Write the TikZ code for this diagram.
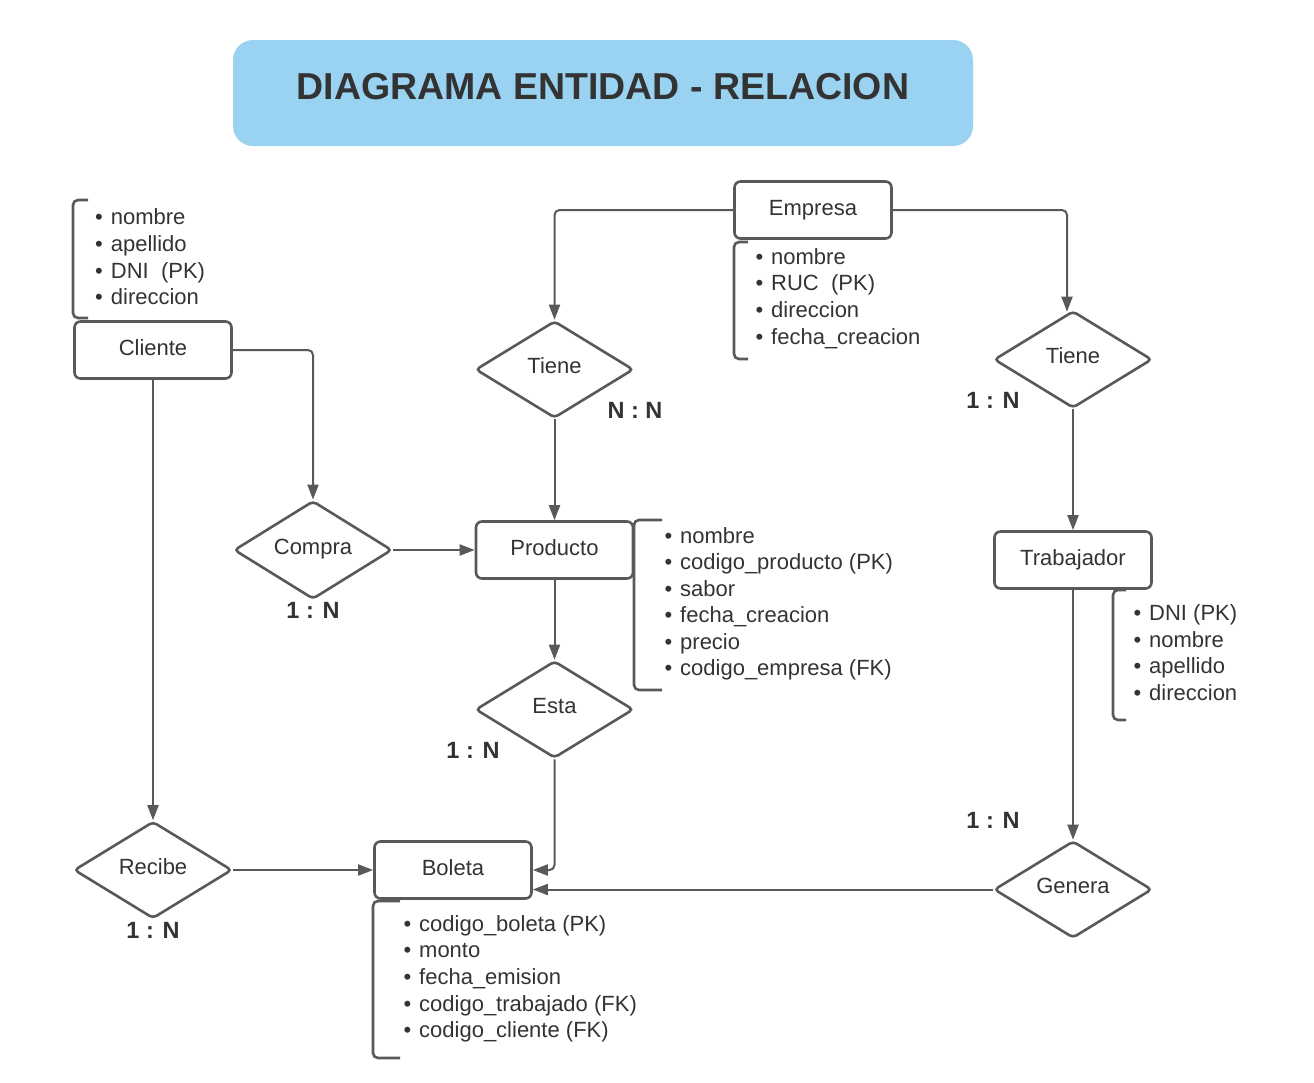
\documentclass[tikz,border=0pt]{standalone}
\usepackage{fontspec}
\setmainfont{Liberation Sans}
\usetikzlibrary{shapes.geometric,arrows.meta,calc}
\definecolor{linegray}{RGB}{89,89,89}
\definecolor{textgray}{RGB}{51,51,51}
\definecolor{titleblue}{RGB}{154,210,241}
\begin{document}
\begin{tikzpicture}[x=1pt,y=-1pt,
  entity/.style={draw=linegray, line width=2.6pt, rounded corners=6pt, minimum width=157pt, minimum height=57pt, inner sep=0pt, fill=white, text=textgray, font=\fontsize{22}{26}\selectfont, text height=16pt, text depth=5pt},
  rel/.style={diamond, draw=linegray, line width=2.6pt, rounded corners=4pt, minimum width=158pt, minimum height=97pt, inner sep=0pt, fill=white, text=textgray, font=\fontsize{22}{26}\selectfont, text height=14pt, text depth=6pt},
  card/.style={text=textgray, font=\bfseries\fontsize{23.5}{28}\selectfont, anchor=base, inner sep=0pt},
  attr/.style={text=textgray, font=\fontsize{22}{26}\selectfont, anchor=base west, inner sep=0pt},
  bracket/.style={draw=linegray, line width=2.6pt, rounded corners=5pt},
  conn/.style={draw=linegray, line width=2pt, -{Triangle[length=15pt,width=11pt]}, rounded corners=5pt},
]
\useasboundingbox (0,0) rectangle (1314,1082);

% title
\node[fill=titleblue, rounded corners=20pt, minimum width=740pt, minimum height=106pt, inner sep=0pt, text=textgray, font=\bfseries\fontsize{37.5}{40}\selectfont, text height=27pt, text depth=14pt] (title) at (603,93) {DIAGRAMA ENTIDAD - RELACION};

% entities
\node[entity] (cliente) at (153,350) {Cliente};
\node[entity] (empresa) at (813,210) {Empresa};
\node[entity] (producto) at (554.5,550) {Producto};
\node[entity] (trabajador) at (1073,560) {Trabajador};
\node[entity] (boleta) at (453,870) {Boleta};

% relations
\node[rel] (tiene1) at (554.5,369.5) {Tiene};
\node[rel] (tiene2) at (1073,359.5) {Tiene};
\node[rel] (compra) at (313,550) {Compra};
\node[rel] (esta) at (554.5,709.5) {Esta};
\node[rel] (recibe) at (153,870) {Recibe};
\node[rel] (genera) at (1073,889.5) {Genera};

% cardinalities
\node[card] (card1) at (635,418) {N : N};
\node[card] (card2) at (993,408) {1 : N};
\node[card] (card3) at (313,618) {1 : N};
\node[card] (card4) at (473,758) {1 : N};
\node[card] (card5) at (993,828) {1 : N};
\node[card] (card6) at (153,938) {1 : N};

% attribute brackets
\draw[bracket] (88,200) -- (73,200) -- (73,318) -- (88,318);
\draw[bracket] (748,242) -- (734,242) -- (734,359) -- (748,359);
\draw[bracket] (662,520) -- (634,520) -- (634,690) -- (662,690);
\draw[bracket] (1126,590) -- (1113,590) -- (1113,720) -- (1126,720);
\draw[bracket] (400,901) -- (373,901) -- (373,1058) -- (400,1058);

% attribute lists
\foreach \t [count=\i from 0] in {nombre, apellido, DNI\ \ (PK), direccion}
  \node[attr] (cli-\i) at (110.7,224.8+26.6*\i) {\llap{•\kern8pt}\t};
\foreach \t [count=\i from 0] in {nombre, RUC\ \ (PK), direccion, fecha\_creacion}
  \node[attr] (emp-\i) at (771,264+26.8*\i) {\llap{•\kern8pt}\t};
\foreach \t [count=\i from 0] in {nombre, codigo\_producto (PK), sabor, fecha\_creacion, precio, codigo\_empresa (FK)}
  \node[attr] (pro-\i) at (680,543.2+26.5*\i) {\llap{•\kern8pt}\t};
\foreach \t [count=\i from 0] in {DNI (PK), nombre, apellido, direccion}
  \node[attr] (tra-\i) at (1149,620.5+26.5*\i) {\llap{•\kern8pt}\t};
\foreach \t [count=\i from 0] in {codigo\_boleta (PK), monto, fecha\_emision, codigo\_trabajado (FK), codigo\_cliente (FK)}
  \node[attr] (bol-\i) at (419,931.2+26.65*\i) {\llap{•\kern8pt}\t};

% connectors
\draw[conn] (empresa.west) -| (tiene1.north);
\draw[conn] (empresa.east) -| ($(tiene2.north)+(-6,2)$);
\draw[conn] (tiene1.south) -- (tiene1.south |- producto.north);
\draw[conn] (tiene2.south) -- (trabajador.north);
\draw[conn] (cliente.east) -| (compra.north);
\draw[conn] (compra.east) -- (compra.east -| producto.west);
\draw[conn] (producto.south) -- (esta.north);
\draw[conn] (cliente.south) -- (recibe.north);
\draw[conn] (recibe.east) -- (recibe.east -| boleta.west);
\draw[conn] (esta.south) |- (boleta.east);
\draw[conn] (trabajador.south) -- (genera.north);
\draw[conn] (genera.west) -- (genera.west -| boleta.east);
\end{tikzpicture}
\end{document}
